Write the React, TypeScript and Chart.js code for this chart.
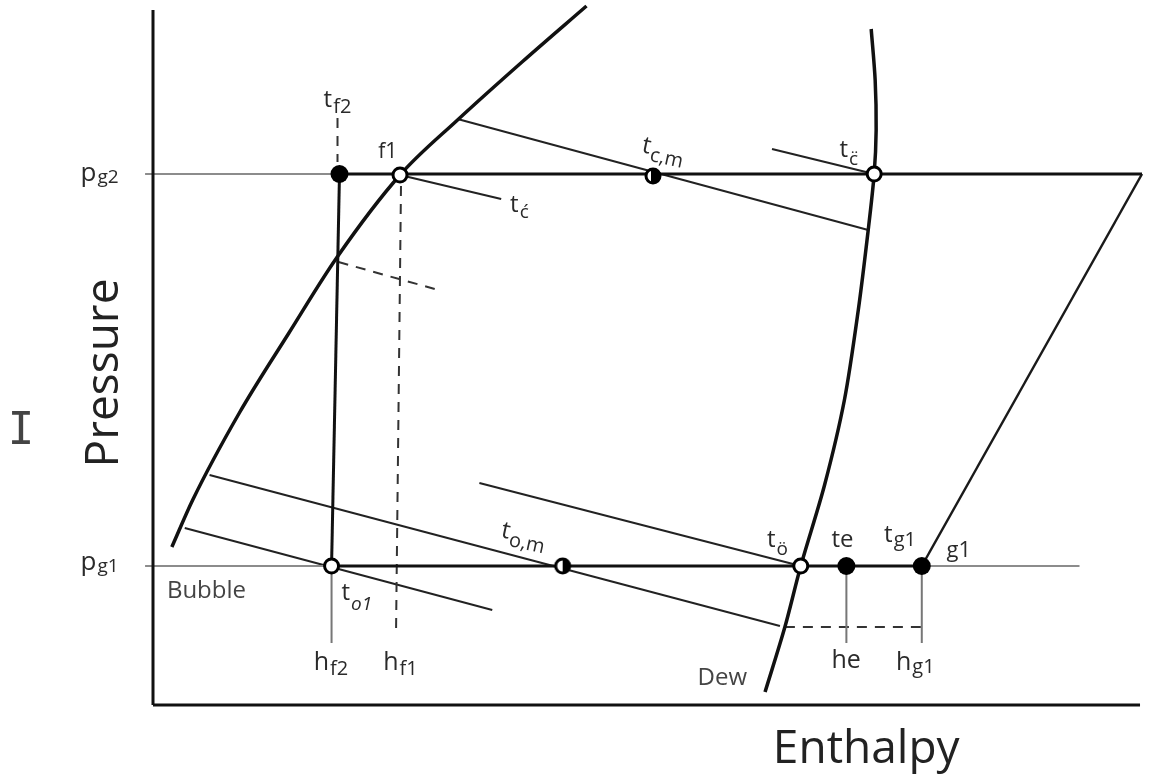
import React, { useEffect, useRef } from "react";
import { Chart, registerables } from "chart.js";

Chart.register(...registerables);

// Units: enthalpy h (arbitrary), pressure p (arbitrary)
type Pt = [number, number];

const AXIS_H: Pt[] = [[0, 0], [995, 0]];
const AXIS_P: Pt[] = [[0, 0], [0, 695]];

const BUBBLE: Pt[] = [[19, 158], [40, 205], [87, 292], [137, 372], [185, 447], [249, 530], [307, 585], [372, 643], [437, 699]];
const DEW: Pt[] = [[724, 676], [728, 625], [729, 575], [727, 531], [721, 475], [711, 395], [697, 305], [677, 220], [653, 139], [637, 78], [617, 13]];

const P_G2 = 531;
const P_G1 = 139;
const H_F2_TOP = 188;
const H_F2 = 180;
const H_F1 = 249;
const H_E = 699;
const H_G1 = 775;
const H_G2 = 997;
const H_DEW_LOW = 653;

const CYCLE_HIGH: Pt[] = [[H_F2_TOP, P_G2], [H_G2, P_G2]];
const CYCLE_LOW: Pt[] = [[H_F2, P_G1], [H_G1, P_G1]];
const CYCLE_VERT: Pt[] = [[H_F2_TOP, P_G2], [H_F2, P_G1]];
const COMPRESSION: Pt[] = [[H_G2, P_G2], [H_G1, P_G1]];

const GREY_G2: Pt[] = [[-8, P_G2], [H_F2_TOP, P_G2]];
const GREY_G1_LEFT: Pt[] = [[-8, P_G1], [H_F2, P_G1]];
const GREY_G1_RIGHT: Pt[] = [[H_G1, P_G1], [934, P_G1]];
const DROP_F2: Pt[] = [[H_F2, P_G1], [H_F2, 62]];
const DROP_E: Pt[] = [[H_E, P_G1], [H_E, 62]];
const DROP_G1: Pt[] = [[H_G1, P_G1], [H_G1, 62]];

const DASH_BOTTOM: Pt[] = [[637, 78], [H_G1, 78]];
const DASH_F1: Pt[] = [[250, 519], [245, 73]];
const DASH_F2: Pt[] = [[186, 587], [186, 543]];
const DASH_DIAG: Pt[] = [[187, 443], [284, 416]];

const ISO_C1: Pt[] = [[H_F1, 530], [351, 506]];
const ISO_CM: Pt[] = [[307, 586], [721, 475]];
const ISO_C2: Pt[] = [[624, 556], [727, 531]];
const ISO_O1: Pt[] = [[32, 177], [342, 95]];
const ISO_OM: Pt[] = [[57, 230], [632, 79]];
const ISO_O2: Pt[] = [[329, 222], [H_DEW_LOW, P_G1]];

const FILLED_PTS: Pt[] = [[H_F2_TOP, P_G2], [H_E, P_G1], [H_G1, P_G1]];
const OPEN_PTS: Pt[] = [[H_F1, 530], [727, P_G2], [H_F2, P_G1], [H_DEW_LOW, P_G1]];
const HALF_CM: Pt[] = [[504, 529]];
const HALF_OM: Pt[] = [[413, P_G1]];

type Label = {
  text: string; sub?: string; h: number; p: number;
  size?: number; subSize?: number; subDy?: number; rot?: number;
  align?: CanvasTextAlign; color?: string; italicSub?: boolean; family?: string; baseline?: CanvasTextBaseline;
};

const LABELS: Label[] = [
  { text: "t", sub: "f2", h: 172, p: 598, subDy: 6, subSize: 20 },
  { text: "f1", h: 227, p: 547, size: 21 },
  { text: "t", sub: "c\u0301", h: 360, p: 493, subDy: 6 },
  { text: "t", sub: "c,m", h: 492, p: 553, subDy: 7, rot: 12, subSize: 20 },
  { text: "t", sub: "c\u0308", h: 692, p: 548, subDy: 8 },
  { text: "p", sub: "g2", h: -73, p: 524, size: 26, subDy: 2 },
  { text: "p", sub: "g1", h: -73, p: 135, size: 26, subDy: 2 },
  { text: "Bubble", h: 14, p: 107, size: 24, color: "#444" },
  { text: "t", sub: "o1", h: 190, p: 105, subDy: 10, italicSub: true },
  { text: "h", sub: "f2", h: 162, p: 35, subDy: 5, size: 25, subSize: 20 },
  { text: "h", sub: "f1", h: 232, p: 35, subDy: 5, size: 25, subSize: 20 },
  { text: "t", sub: "o,m", h: 350, p: 168, subDy: 7, rot: 12, subSize: 20 },
  { text: "t", sub: "\u00f6", h: 619, p: 158, subDy: 8 },
  { text: "te", h: 684, p: 158, size: 24 },
  { text: "t", sub: "g1", h: 737, p: 163, subDy: 4, subSize: 20 },
  { text: "g1", h: 800, p: 148, size: 22 },
  { text: "he", h: 684, p: 37, size: 25 },
  { text: "h", sub: "g1", h: 749, p: 35, subDy: 3, size: 25, subSize: 20 },
  { text: "Dew", h: 549, p: 20, size: 24, color: "#444" },
  { text: "Pressure", h: -35, p: 332, size: 46, rot: -90, align: "center", color: "#222" },
  { text: "Enthalpy", h: 719, p: -58, size: 46, align: "center", color: "#222" },
  { text: "I", h: -133, p: 272, size: 44, align: "center", color: "#444", family: '"DejaVu Sans Mono"', baseline: "middle" },
];

const toData = (pts: Pt[]) => pts.map(([h, p]) => ({ x: h, y: p }));

function halfMarker(cut: number): HTMLCanvasElement {
  const c = document.createElement("canvas");
  c.width = 20; c.height = 20;
  const g = c.getContext("2d")!;
  g.beginPath(); g.arc(10, 10, 7, 0, Math.PI * 2); g.fillStyle = "#fff"; g.fill();
  g.save(); g.clip(); g.fillStyle = "#000"; g.fillRect(cut, 0, 20, 20); g.restore();
  g.lineWidth = 3; g.strokeStyle = "#000"; g.beginPath(); g.arc(10, 10, 7, 0, Math.PI * 2); g.stroke();
  return c;
}

const labelPlugin = {
  id: "phLabels",
  afterDatasetsDraw(chart: any) {
    const { ctx, scales } = chart;
    const xs = scales.x, ys = scales.y;
    for (const l of LABELS) {
      const px = xs.getPixelForValue(l.h), py = ys.getPixelForValue(l.p);
      const fam = l.family || '"Open Sans", sans-serif';
      ctx.save();
      ctx.translate(px, py);
      if (l.rot) ctx.rotate((l.rot * Math.PI) / 180);
      ctx.fillStyle = l.color || "#2a2a2a";
      ctx.textAlign = l.align || "left";
      ctx.textBaseline = l.baseline || "alphabetic";
      ctx.font = `${l.size || 24}px ${fam}`;
      ctx.fillText(l.text, 0, 0);
      if (l.sub) {
        const w = ctx.measureText(l.text).width;
        ctx.font = `${l.italicSub ? "italic " : ""}${l.subSize || 19}px ${fam}`;
        ctx.fillText(l.sub, w + 1, l.subDy ?? 6);
      }
      ctx.restore();
    }
  },
};

export default function App() {
  const ref = useRef<HTMLCanvasElement | null>(null);
  useEffect(() => {
    if (!ref.current) return;
    const line = (pts: Pt[], color: string, width: number, extra: any = {}) => ({
      type: "scatter" as const,
      data: toData(pts),
      showLine: true,
      borderColor: color,
      borderWidth: width,
      pointRadius: 0,
      pointHoverRadius: 0,
      fill: false,
      clip: false,
      order: 10,
      borderCapStyle: "butt",
      ...extra,
    });
    const DASH = { borderDash: [10, 8] };
    const chart = new Chart(ref.current, {
      type: "scatter",
      data: {
        datasets: [
          {
            data: toData(FILLED_PTS), pointRadius: 9, pointBackgroundColor: "#000", pointBorderColor: "#000",
            pointBorderWidth: 0, showLine: false, clip: false, order: 0,
          },
          {
            data: toData(OPEN_PTS), pointRadius: 7, pointBackgroundColor: "#fff", pointBorderColor: "#000",
            pointBorderWidth: 3, showLine: false, clip: false, order: 0,
          },
          {
            data: toData(HALF_CM), pointRadius: 8, pointStyle: halfMarker(8), showLine: false, clip: false, order: 0,
          },
          {
            data: toData(HALF_OM), pointRadius: 8, pointStyle: halfMarker(10), showLine: false, clip: false, order: 0,
          },
          line(AXIS_H, "#111", 3),
          line(AXIS_P, "#111", 3),
          line(BUBBLE, "#111", 3.5, { cubicInterpolationMode: "monotone" }),
          line(DEW, "#111", 3.5, { tension: 0.3 }),
          line(CYCLE_HIGH, "#111", 3),
          line(CYCLE_LOW, "#111", 3),
          line(CYCLE_VERT, "#111", 3),
          line(COMPRESSION, "#1a1a1a", 2.5),
          line(GREY_G2, "#8c8c8c", 2),
          line(GREY_G1_LEFT, "#8c8c8c", 2),
          line(GREY_G1_RIGHT, "#8c8c8c", 2),
          line(DROP_F2, "#777", 2),
          line(DROP_E, "#777", 2),
          line(DROP_G1, "#777", 2),
          line(DASH_BOTTOM, "#333", 2, DASH),
          line(DASH_F1, "#333", 2, DASH),
          line(DASH_F2, "#333", 2, DASH),
          line(DASH_DIAG, "#333", 2, DASH),
          line(ISO_C1, "#222", 2),
          line(ISO_CM, "#222", 2),
          line(ISO_C2, "#222", 2),
          line(ISO_O1, "#222", 2),
          line(ISO_OM, "#222", 2),
          line(ISO_O2, "#222", 2),
        ] as any,
      },
      options: {
        animation: false,
        responsive: false,
        events: [],
        layout: { padding: { left: 153, right: 2, top: 10, bottom: 71 } },
        scales: {
          x: { type: "linear", display: false, min: 0, max: 997 },
          y: { type: "linear", display: false, min: 0, max: 695 },
        },
        plugins: { legend: { display: false }, tooltip: { enabled: false } },
      },
      plugins: [labelPlugin],
    });
    return () => chart.destroy();
  }, []);
  return (
    <div style={{ position: "absolute", left: 0, top: 0, width: 1152, height: 776, background: "#fff" }}>
      <canvas ref={ref} width={1152} height={776} style={{ display: "block" }} />
    </div>
  );
}
